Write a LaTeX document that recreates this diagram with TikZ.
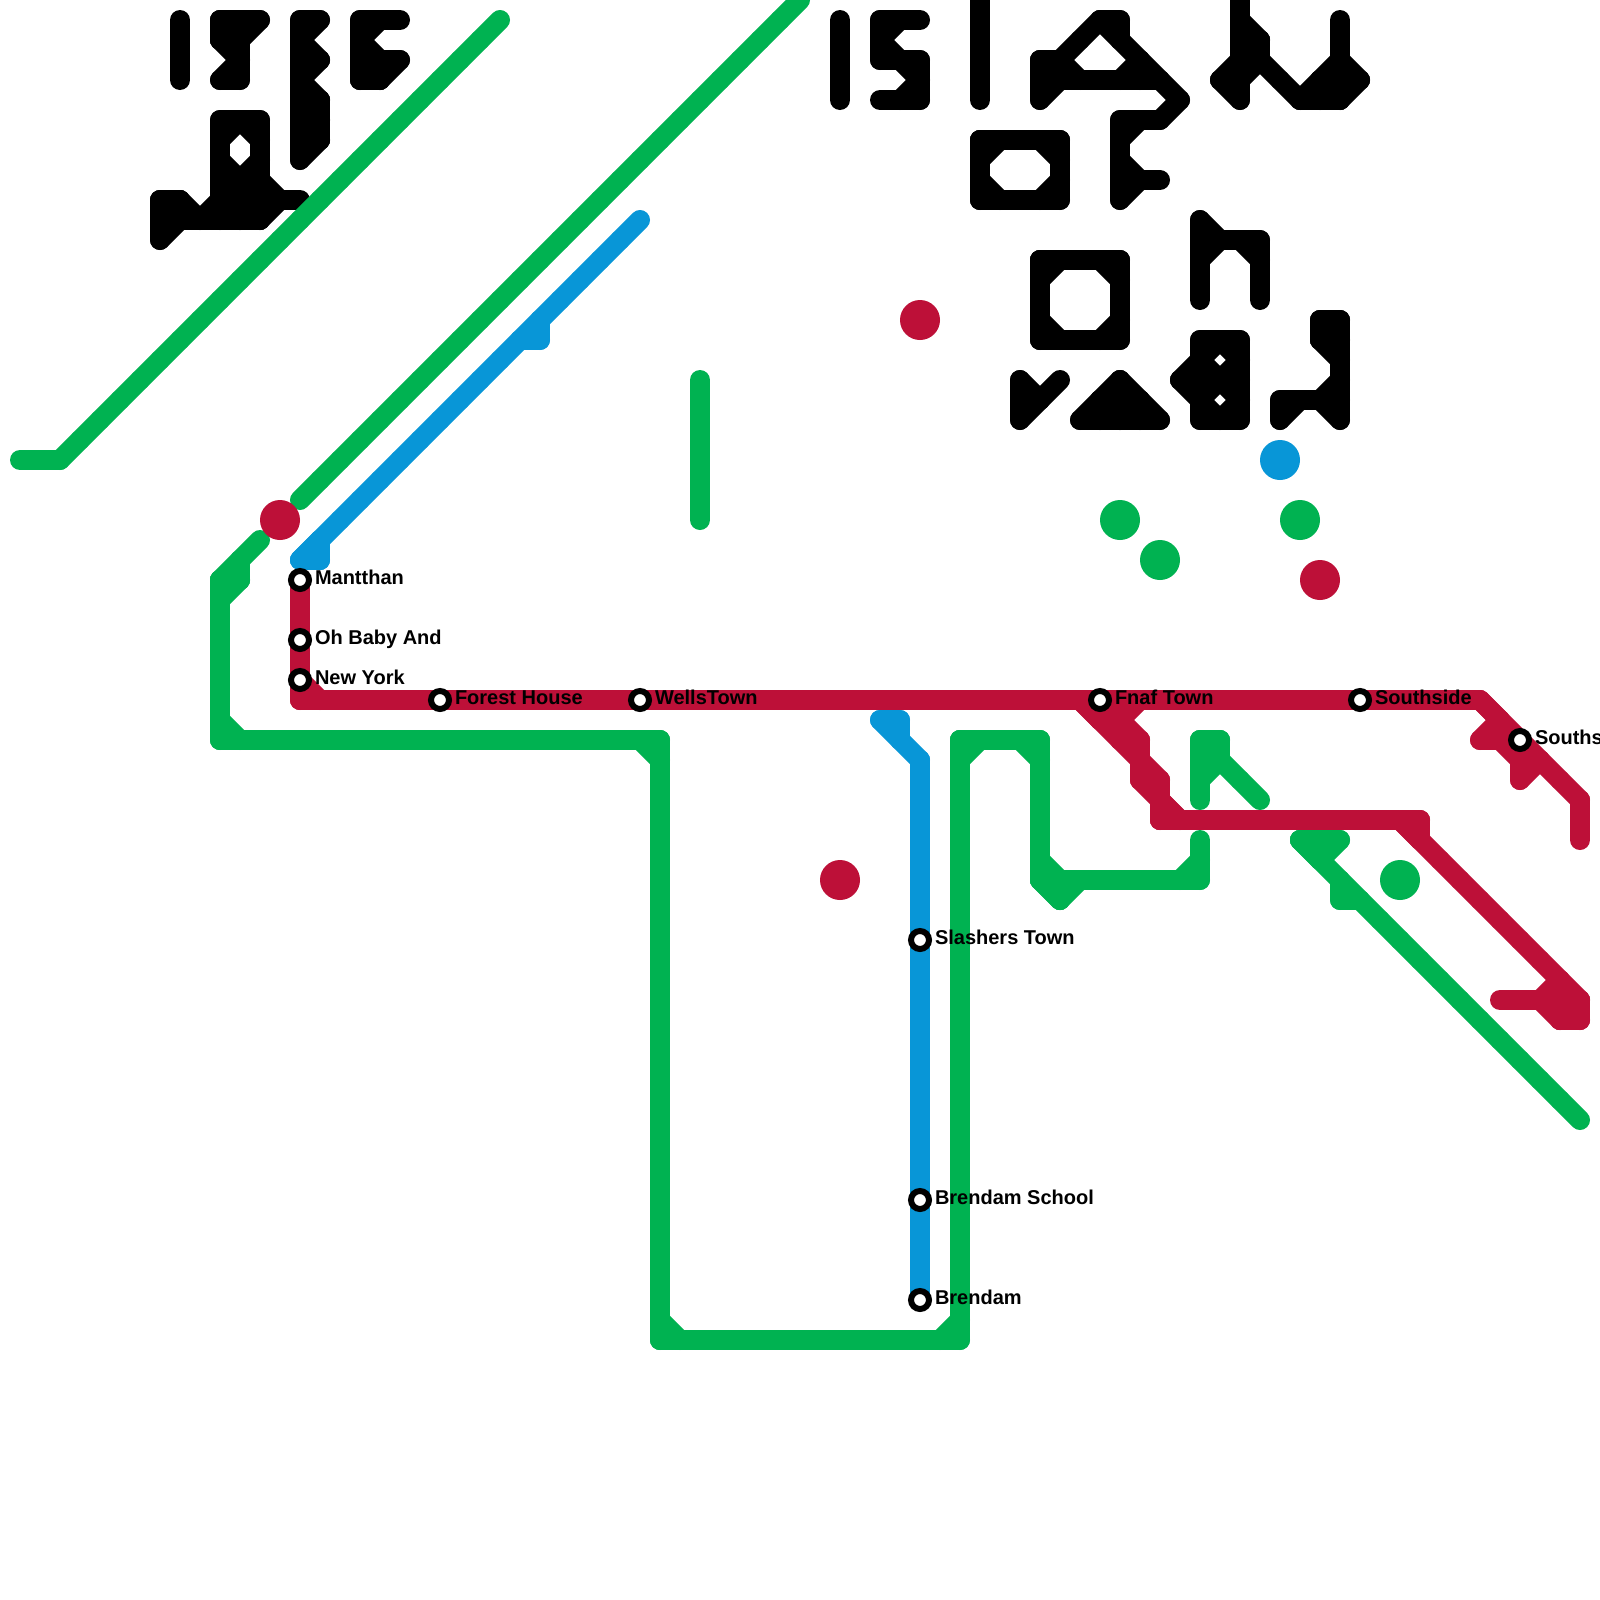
\documentclass[tikz,border=0pt]{standalone}
\usepackage{fontspec}
\setmainfont{Liberation Sans}
\definecolor{mgreen}{RGB}{0,178,81}
\definecolor{mblue}{RGB}{8,150,215}
\definecolor{mred}{RGB}{189,16,56}
\tikzset{
  segline/.style={line width=1cm,line cap=round,line join=round},
  station/.style={circle,draw=black,fill=white,line width=0.3cm,minimum size=0.9cm,inner sep=0pt,outer sep=0pt},
  stationlabel/.style={inner sep=0pt,outer sep=0pt,anchor=base west,font=\fontsize{28.45}{32}\selectfont\bfseries,text=black},
  dotred/.style={circle,fill=mred,minimum size=2cm,inner sep=0pt,outer sep=0pt},
  dotgreen/.style={circle,fill=mgreen,minimum size=2cm,inner sep=0pt,outer sep=0pt},
  dotblue/.style={circle,fill=mblue,minimum size=2cm,inner sep=0pt,outer sep=0pt}
}
% grid points: every pair of neighbouring points of one colour is joined
\protected\def\PT#1#2{\DrawPoint{#1}{#2}}
\def\StartLine#1{\gdef\curcol{#1}\gdef\ptlist{}}
\def\RegPt#1#2{\expandafter\gdef\csname P\curcol:#1:#2\endcsname{}\xdef\ptlist{\ptlist\PT{#1}{#2}}}
\newcommand\Pts[1]{\foreach \pa/\pb in {#1}{\RegPt{\pa}{\pb}}}
\newcommand\Run[4]{%
  \pgfmathtruncatemacro\runn{max(abs(#3-#1),abs(#4-#2))}%
  \pgfmathtruncatemacro\rundc{(#3-#1)/\runn}%
  \pgfmathtruncatemacro\rundr{(#4-#2)/\runn}%
  \foreach \k in {0,...,\runn}{%
    \edef\rc{\the\numexpr#1+\k*\rundc\relax}\edef\rr{\the\numexpr#2+\k*\rundr\relax}%
    \RegPt{\rc}{\rr}}}
\newcommand\Ring[4]{\Run{#1}{#2}{#3}{#2}\Run{#1}{#4}{#3}{#4}\Run{#1}{#2}{#1}{#4}\Run{#3}{#2}{#3}{#4}}
\def\LinkIf#1#2#3#4{%
  \edef\lc{\the\numexpr#3\relax}\edef\lr{\the\numexpr#4\relax}%
  \ifcsname P\curcol:\lc:\lr\endcsname
    \draw[segline,draw=\curcol] ({#1*20},{#2*20}) -- ({\lc*20},{\lr*20});
  \fi}
\def\DrawPoint#1#2{%
  \LinkIf{#1}{#2}{#1+1}{#2}%
  \LinkIf{#1}{#2}{#1}{#2+1}%
  \LinkIf{#1}{#2}{#1+1}{#2+1}%
  \LinkIf{#1}{#2}{#1-1}{#2+1}}
\def\EndLine{\ptlist}
\begin{document}
\begin{tikzpicture}[x=0.05cm,y=-0.05cm]
\useasboundingbox (0,0) rectangle (1600,1600);
\fill[white] (0,0) rectangle (1600,1600);
\clip (0,0) rectangle (1600,1600);
% black
\StartLine{black}
\Run{9}{1}{9}{4}
\Pts{11/1,12/1,13/1,11/2,12/2,12/3,11/4,12/4}
\Run{15}{1}{15}{8}
\Pts{16/1,16/3,16/5,16/6,16/7}
\Pts{18/1,19/1,20/1,18/2,18/3,19/3,20/3,18/4,19/4}
\Pts{11/6,12/6,13/6,11/7,13/7,11/8,13/8,11/9,12/9,13/9,11/10,12/10,13/10,14/10,15/10,8/10,9/10,8/11,9/11,10/11,11/11,12/11,13/11,8/12}
\Run{42}{1}{42}{5}
\Pts{44/1,45/1,46/1,44/2,44/3,45/3,46/3,46/4,44/5,45/5,46/5}
\Run{49}{0}{49}{5}
\Pts{55/1,56/1,54/2,56/2,52/3,53/3,57/3,52/4,53/4,54/4,55/4,56/4,57/4,58/4,52/5,59/5,56/6,57/6,58/6,56/7,56/8,56/9,57/9,58/9,56/10}
\Ring{49}{7}{53}{10}
\Run{62}{0}{62}{5}
\Pts{63/2,63/3,64/4,65/5,66/5,67/5,66/4,67/4,67/3,67/2,67/1,61/4,68/4}
\Run{60}{11}{60}{15}
\Pts{61/12,62/12,63/12,63/13,63/14,63/15}
\Ring{52}{13}{56}{17}
\Pts{60/17,61/17,62/17,60/18,62/18,59/19,60/19,61/19,62/19,60/20,62/20,60/21,61/21,62/21}
\Pts{51/19,51/20,51/21,52/20,53/19}
\Pts{56/19,55/20,56/20,57/20,54/21,55/21,56/21,57/21,58/21}
\Pts{66/16,67/16,66/17,67/17,67/18,67/19,64/20,65/20,66/20,67/20,64/21,67/21}
\EndLine
% green
\StartLine{mgreen}
\Run{1}{23}{3}{23}
\Run{3}{23}{25}{1}
\Run{15}{25}{40}{0}
\Run{13}{27}{11}{29}
\Pts{12/29}
\Run{11}{29}{11}{37}
\Run{11}{37}{33}{37}
\Run{33}{37}{33}{67}
\Run{33}{67}{48}{67}
\Run{48}{67}{48}{37}
\Run{48}{37}{52}{37}
\Run{52}{37}{52}{44}
\Run{52}{44}{60}{44}
\Run{60}{44}{60}{42}
\Pts{53/45}
\Run{35}{19}{35}{26}
\Run{60}{37}{60}{40}
\Pts{61/37,61/38,62/39,63/40}
\Pts{65/42,66/42,67/42}
\Run{65}{42}{79}{56}
\Pts{67/45}
\EndLine
% blue
\StartLine{mblue}
\Run{15}{28}{32}{11}
\Pts{16/28,16/27,27/17}
\Run{44}{36}{46}{38}
\Pts{45/36}
\Run{46}{38}{46}{65}
\EndLine
% red
\StartLine{mred}
\Run{15}{29}{15}{35}
\Run{15}{35}{74}{35}
\Run{74}{35}{79}{40}
\Run{79}{40}{79}{42}
\Pts{74/37,75/37,76/38,76/39}
\Run{54}{35}{58}{39}
\Pts{56/36,57/37,57/39,58/40}
\Run{58}{40}{58}{41}
\Run{58}{41}{71}{41}
\Run{70}{41}{79}{50}
\Pts{75/50,76/50,77/50,78/50,78/51,79/51}
\EndLine
% isolated dots
\node[dotred] (dr1) at (920,320) {};
\node[dotred] (dr2) at (280,520) {};
\node[dotred] (dr3) at (840,880) {};
\node[dotred] (dr4) at (1320,580) {};
\node[dotgreen] (dg1) at (1120,520) {};
\node[dotgreen] (dg2) at (1160,560) {};
\node[dotgreen] (dg3) at (1300,520) {};
\node[dotgreen] (dg4) at (1400,880) {};
\node[dotblue] (db1) at (1280,460) {};
% stations
\node[station] (s1) at (300,580) {};
\node[station] (s2) at (300,640) {};
\node[station] (s3) at (300,680) {};
\node[station] (s4) at (440,700) {};
\node[station] (s5) at (640,700) {};
\node[station] (s6) at (1100,700) {};
\node[station] (s7) at (1360,700) {};
\node[station] (s8) at (1520,740) {};
\node[station] (s9) at (920,940) {};
\node[station] (s10) at (920,1200) {};
\node[station] (s11) at (920,1300) {};
\node[stationlabel] (l1) at (315,584) {Mantthan};
\node[stationlabel] (l2) at (315,644) {Oh Baby And};
\node[stationlabel] (l3) at (315,684) {New York};
\node[stationlabel] (l4) at (455,704) {Forest House};
\node[stationlabel] (l5) at (655,704) {WellsTown};
\node[stationlabel] (l6) at (1115,704) {Fnaf Town};
\node[stationlabel] (l7) at (1375,704) {Southside};
\node[stationlabel] (l8) at (1535,744) {Souths};
\node[stationlabel] (l9) at (935,944) {Slashers Town};
\node[stationlabel] (l10) at (935,1204) {Brendam School};
\node[stationlabel] (l11) at (935,1304) {Brendam};
\end{tikzpicture}
\end{document}
